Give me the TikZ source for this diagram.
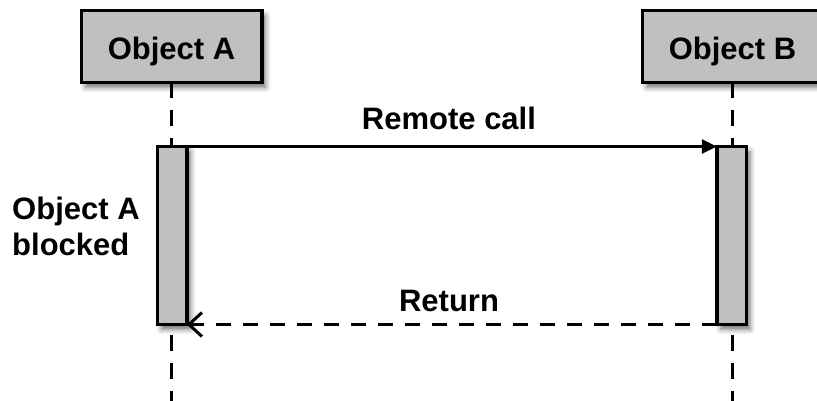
\documentclass[tikz,border=0pt]{standalone}
\usepackage{fontspec}
\setmainfont{Liberation Sans}
\usetikzlibrary{arrows.meta,shadows.blur}
\definecolor{boxgray}{HTML}{C0C0C0}
\tikzset{
  lbl/.style={font=\fontsize{31}{36}\selectfont\bfseries, inner sep=0pt},
  objbox/.style={draw=black, fill=boxgray, line width=3.5pt, outer sep=0pt, inner sep=0pt,
    minimum height=72pt, text height=27pt, text depth=0pt,
    font=\fontsize{31}{35}\selectfont\bfseries,
    blur shadow={shadow xshift=4pt, shadow yshift=-5pt, shadow blur radius=5pt, shadow opacity=55}},
  actbar/.style={draw=black, fill=boxgray, line width=3.5pt, outer sep=0pt, inner sep=0pt,
    minimum width=29.5pt, minimum height=178pt,
    blur shadow={shadow xshift=4pt, shadow yshift=-5pt, shadow blur radius=5pt, shadow opacity=55}},
  lifeline/.style={line width=3pt, dash pattern=on 16pt off 12pt},
  msg/.style={line width=3pt},
}
\begin{document}
\begin{tikzpicture}[x=1pt, y=-1pt]
\useasboundingbox (0,0) rectangle (817,401);
% header boxes
\node[objbox, minimum width=180.5pt] (objA) at (171.5,46.5) {Object A};
\node[objbox, minimum width=180pt] (objB) at (732.5,46.5) {Object B};
% lifelines
\coordinate (endA) at (objA.south |- 0,401);
\coordinate (endB) at (objB.south |- 0,401);
\draw[lifeline] (objA.south) -- (endA);
\draw[lifeline] (objB.south) -- (endB);
% activation bars
\node[actbar] (actA) at (172,235.5) {};
\node[actbar] (actB) at (731.5,235.5) {};
% messages
\draw[msg, -{Triangle[length=15pt,width=14pt]}] (actA.north east) -- (actB.north west);
\draw[msg, dash pattern=on 15pt off 12pt, -{Straight Barb[length=13pt,width=24pt,line width=3pt]}]
  (actB.south west) -- (actA.south east);
% labels
\node[lbl, anchor=base] (lblcall) at (449,130) {Remote call};
\node[lbl, anchor=base] (lblret) at (449,311) {Return};
\node[lbl, anchor=west, align=left] (lblblk) at (12,226) {Object A\\blocked};
\end{tikzpicture}
\end{document}
